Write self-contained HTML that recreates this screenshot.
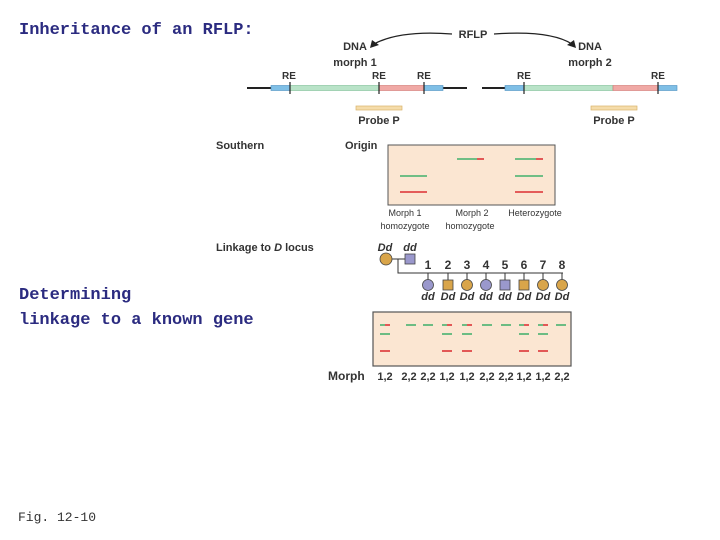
<html><body style="margin:0;width:720px;height:540px;background:#fff;overflow:hidden">
<svg width="720" height="540" xmlns="http://www.w3.org/2000/svg" style="position:absolute;left:0;top:0">
<style>.a{font-family:"Liberation Sans",sans-serif;font-weight:bold;font-size:11px;fill:#333}.s{font-family:"Liberation Sans",sans-serif;font-size:9px;fill:#333}.i{font-family:"Liberation Sans",sans-serif;font-weight:bold;font-style:italic;font-size:11px;fill:#333}.t{font-family:"Liberation Mono",monospace;font-size:17px;fill:#2b2b80;font-weight:bold}</style>
<text x="19" y="34" class="t">Inheritance of an RFLP:</text>
<text x="19" y="299" class="t">Determining</text>
<text x="19" y="324" class="t">linkage to a known gene</text>
<text x="18" y="521" style="font-family:'Liberation Mono',monospace;font-size:13px;fill:#333">Fig. 12-10</text>
<text x="473" y="38" class="a" text-anchor="middle">RFLP</text>
<path d="M452 34 Q400 30 374 44" fill="none" stroke="#222" stroke-width="1.3"/>
<path d="M370 48 L372 40 L379 45 Z" fill="#222"/>
<path d="M494 34 Q550 30 572 44" fill="none" stroke="#222" stroke-width="1.3"/>
<path d="M576 48 L567 45 L574 40 Z" fill="#222"/>
<text x="355" y="50" class="a" text-anchor="middle">DNA</text>
<text x="355" y="66" class="a" text-anchor="middle">morph 1</text>
<text x="590" y="50" class="a" text-anchor="middle">DNA</text>
<text x="590" y="66" class="a" text-anchor="middle">morph 2</text>
<g class="a" text-anchor="middle" style="font-size:10px"><text x="289" y="79">RE</text><text x="379" y="79">RE</text><text x="424" y="79">RE</text><text x="524" y="79">RE</text><text x="658" y="79">RE</text></g>
<line x1="247" y1="88" x2="467" y2="88" stroke="#222" stroke-width="2"/>
<rect x="271" y="85.5" width="19" height="5" fill="#7fbfe6" stroke="#4a8fc0" stroke-width=".6"/>
<rect x="290" y="85.5" width="89" height="5" fill="#b9e3c8" stroke="#7cbf95" stroke-width=".6"/>
<rect x="379" y="85.5" width="45" height="5" fill="#f0a9a5" stroke="#d07470" stroke-width=".6"/>
<rect x="424" y="85.5" width="19" height="5" fill="#7fbfe6" stroke="#4a8fc0" stroke-width=".6"/>
<line x1="482" y1="88" x2="677" y2="88" stroke="#222" stroke-width="2"/>
<rect x="505" y="85.5" width="19" height="5" fill="#7fbfe6" stroke="#4a8fc0" stroke-width=".6"/>
<rect x="524" y="85.5" width="89" height="5" fill="#b9e3c8" stroke="#7cbf95" stroke-width=".6"/>
<rect x="613" y="85.5" width="45" height="5" fill="#f0a9a5" stroke="#d07470" stroke-width=".6"/>
<rect x="658" y="85.5" width="19" height="5" fill="#7fbfe6" stroke="#4a8fc0" stroke-width=".6"/>
<g stroke="#222" stroke-width="1.2"><line x1="290" y1="82" x2="290" y2="94"/><line x1="379" y1="82" x2="379" y2="94"/><line x1="424" y1="82" x2="424" y2="94"/><line x1="524" y1="82" x2="524" y2="94"/><line x1="658" y1="82" x2="658" y2="94"/></g>
<rect x="356" y="106" width="46" height="4" fill="#f5dcaa" stroke="#d9b36a" stroke-width=".7"/>
<rect x="591" y="106" width="46" height="4" fill="#f5dcaa" stroke="#d9b36a" stroke-width=".7"/>
<text x="379" y="124" class="a" text-anchor="middle">Probe P</text>
<text x="614" y="124" class="a" text-anchor="middle">Probe P</text>
<text x="216" y="149" class="a">Southern</text>
<text x="345" y="149" class="a">Origin</text>
<rect x="388" y="145" width="167" height="60" fill="#fbe6d2" stroke="#555" stroke-width="1"/>
<g stroke-width="1.8"><line x1="457" y1="159" x2="477" y2="159" stroke="#5cb87a"/><line x1="477" y1="159" x2="484" y2="159" stroke="#e04848"/>
<line x1="515" y1="159" x2="536" y2="159" stroke="#5cb87a"/><line x1="536" y1="159" x2="543" y2="159" stroke="#e04848"/>
<line x1="400" y1="176" x2="427" y2="176" stroke="#5cb87a"/><line x1="515" y1="176" x2="543" y2="176" stroke="#5cb87a"/>
<line x1="400" y1="192" x2="427" y2="192" stroke="#e04848"/><line x1="515" y1="192" x2="543" y2="192" stroke="#e04848"/></g>
<g class="s" text-anchor="middle"><text x="405" y="216">Morph 1</text><text x="405" y="229">homozygote</text><text x="472" y="216">Morph 2</text><text x="470" y="229">homozygote</text><text x="535" y="216">Heterozygote</text></g>
<text x="216" y="251" class="a">Linkage to <tspan font-style="italic">D</tspan> locus</text>
<text x="385" y="251" class="i" text-anchor="middle">Dd</text><text x="410" y="251" class="i" text-anchor="middle">dd</text>
<line x1="392" y1="259" x2="405" y2="259" stroke="#333"/>
<polyline points="398,259 398,273 563,273" fill="none" stroke="#333"/>
<circle cx="386" cy="259" r="6" fill="#d9a54a" stroke="#444" stroke-width=".8"/>
<rect x="405" y="254" width="10" height="10" fill="#9a98cc" stroke="#444" stroke-width=".8"/>
<g class="a" text-anchor="middle" style="font-size:12px"><text x="428" y="269">1</text><text x="448" y="269">2</text><text x="467" y="269">3</text><text x="486" y="269">4</text><text x="505" y="269">5</text><text x="524" y="269">6</text><text x="543" y="269">7</text><text x="562" y="269">8</text></g>
<g stroke="#333"><line x1="428" y1="273" x2="428" y2="280"/><line x1="448" y1="273" x2="448" y2="280"/><line x1="467" y1="273" x2="467" y2="280"/><line x1="486" y1="273" x2="486" y2="280"/><line x1="505" y1="273" x2="505" y2="280"/><line x1="524" y1="273" x2="524" y2="280"/><line x1="543" y1="273" x2="543" y2="280"/><line x1="562" y1="273" x2="562" y2="280"/></g>
<g stroke="#444" stroke-width=".8">
<circle cx="428" cy="285" r="5.5" fill="#9a98cc"/><rect x="443" y="280" width="10" height="10" fill="#d9a54a"/>
<circle cx="467" cy="285" r="5.5" fill="#d9a54a"/><circle cx="486" cy="285" r="5.5" fill="#9a98cc"/>
<rect x="500" y="280" width="10" height="10" fill="#9a98cc"/><rect x="519" y="280" width="10" height="10" fill="#d9a54a"/>
<circle cx="543" cy="285" r="5.5" fill="#d9a54a"/><circle cx="562" cy="285" r="5.5" fill="#d9a54a"/></g>
<g class="i" text-anchor="middle"><text x="428" y="300">dd</text><text x="448" y="300">Dd</text><text x="467" y="300">Dd</text><text x="486" y="300">dd</text><text x="505" y="300">dd</text><text x="524" y="300">Dd</text><text x="543" y="300">Dd</text><text x="562" y="300">Dd</text></g>
<rect x="373" y="312" width="198" height="54" fill="#fbe6d2" stroke="#555" stroke-width="1.2"/>
<g stroke-width="1.8">
<g stroke="#5cb87a"><line x1="380" y1="325" x2="385" y2="325"/><line x1="406" y1="325" x2="416" y2="325"/><line x1="423" y1="325" x2="433" y2="325"/><line x1="442" y1="325" x2="447" y2="325"/><line x1="462" y1="325" x2="467" y2="325"/><line x1="482" y1="325" x2="492" y2="325"/><line x1="501" y1="325" x2="511" y2="325"/><line x1="519" y1="325" x2="524" y2="325"/><line x1="538" y1="325" x2="543" y2="325"/><line x1="556" y1="325" x2="566" y2="325"/></g>
<g stroke="#e04848"><line x1="385" y1="325" x2="390" y2="325"/><line x1="447" y1="325" x2="452" y2="325"/><line x1="467" y1="325" x2="472" y2="325"/><line x1="524" y1="325" x2="529" y2="325"/><line x1="543" y1="325" x2="548" y2="325"/></g>
<g stroke="#5cb87a"><line x1="380" y1="334" x2="390" y2="334"/><line x1="442" y1="334" x2="452" y2="334"/><line x1="462" y1="334" x2="472" y2="334"/><line x1="519" y1="334" x2="529" y2="334"/><line x1="538" y1="334" x2="548" y2="334"/></g>
<g stroke="#e04848"><line x1="380" y1="351" x2="390" y2="351"/><line x1="442" y1="351" x2="452" y2="351"/><line x1="462" y1="351" x2="472" y2="351"/><line x1="519" y1="351" x2="529" y2="351"/><line x1="538" y1="351" x2="548" y2="351"/></g>
</g>
<text x="328" y="380" class="a" style="font-size:12px">Morph</text>
<g class="a" text-anchor="middle" style="font-size:11px"><text x="385" y="380">1,2</text><text x="409" y="380">2,2</text><text x="428" y="380">2,2</text><text x="447" y="380">1,2</text><text x="467" y="380">1,2</text><text x="487" y="380">2,2</text><text x="506" y="380">2,2</text><text x="524" y="380">1,2</text><text x="543" y="380">1,2</text><text x="562" y="380">2,2</text></g>
</svg>
</body></html>
